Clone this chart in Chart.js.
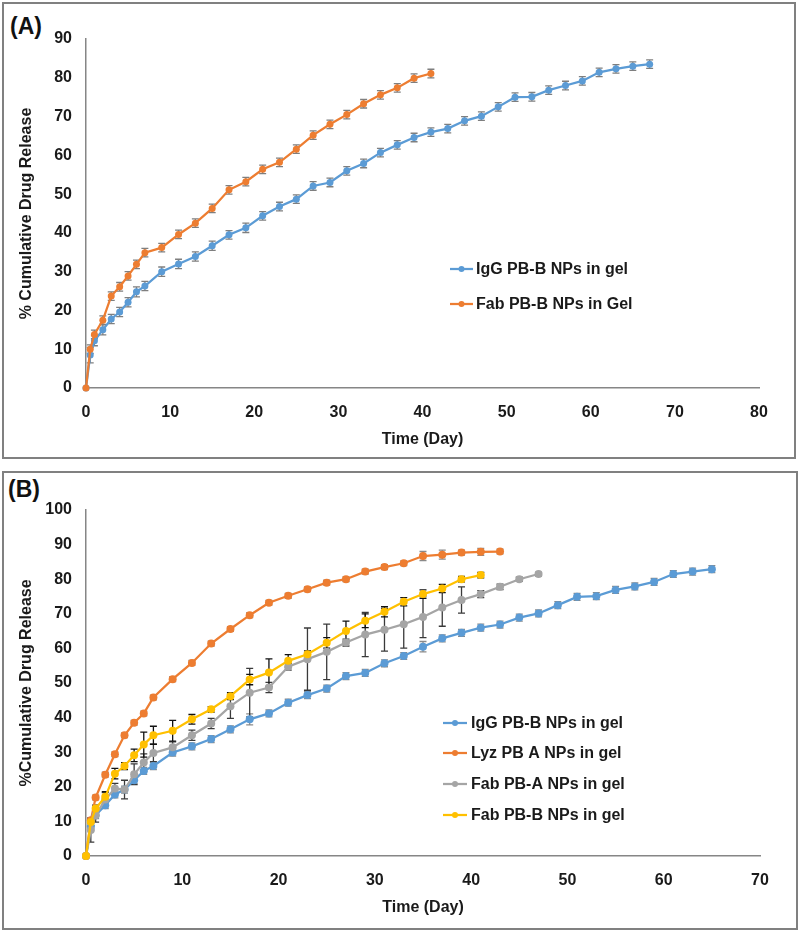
<!DOCTYPE html>
<html><head><meta charset="utf-8">
<script src="https://cdn.jsdelivr.net/npm/chart.js@4.4.1/dist/chart.umd.min.js"></script>
<style>
html,body{margin:0;padding:0;background:#fff;width:800px;height:931px;overflow:hidden;position:relative;font-family:"Liberation Sans",Arial,sans-serif;}
.box{position:absolute;box-sizing:border-box;border:2px solid #808080;}
.lbl{position:absolute;font-weight:bold;font-size:23px;color:#111;line-height:1;}
canvas{position:absolute;left:0;}
</style></head><body>
<div class="box" style="left:2px;top:2px;width:794px;height:457px"></div>
<div class="box" style="left:2px;top:471px;width:796px;height:459px"></div>
<div class="lbl" style="left:10px;top:15px">(A)</div>
<div class="lbl" style="left:8px;top:478px">(B)</div>
<canvas id="cA" width="800" height="462" style="top:0"></canvas>
<canvas id="cB" width="800" height="461" style="top:470px"></canvas>
<script>
// ---------- Panel A data ----------
const timesIgGA = [0,0.5,1,2,3,4,5,6,7,9,11,13,15,17,19,21,23,25,27,29,31,33,35,37,39,41,43,45,47,49,51,53,55,57,59,61,63,65,67];
const iggA = [0,8.5,12.2,15.0,17.8,19.6,22.1,24.8,26.3,30.0,32.0,33.9,36.7,39.5,41.3,44.4,46.8,48.7,52.1,53.0,56.0,57.9,60.7,62.7,64.6,66.0,66.9,68.9,70.1,72.5,75.0,75.1,76.8,78.0,79.2,81.4,82.3,83.0,83.5];
const iggErrA = [0,2.0,1.3,1.3,1.2,1.2,1.2,1.3,1.2,1.2,1.2,1.2,1.2,1.1,1.2,1.1,1.1,1.1,1.1,1.1,1.1,1.1,1.1,1.1,1.1,1.1,1.1,1.1,1.1,1.1,1.1,1.1,1.1,1.1,1.1,1.1,1.1,1.1,1.1];
const timesFab = [0,0.5,1,2,3,4,5,6,7,9,11,13,15,17,19,21,23,25,27,29,31,33,35,37,39,41];
const fabA = [0,10.0,13.8,17.5,23.7,26.1,28.9,31.9,34.9,36.2,39.6,42.5,46.3,51.1,53.2,56.4,58.2,61.6,65.2,68.0,70.5,73.3,75.6,77.4,79.9,81.1];
const fabErrA = [0,1.1,1.1,1.1,1.1,1.1,1.1,1.1,1.1,1.1,1.1,1.1,1.1,1.1,1.1,1.1,1.1,1.1,1.1,1.1,1.1,1.1,1.1,1.1,1.1,1.1];
const xTicksA = [0,10,20,30,40,50,60,70,80];
const yTicksA = [0,10,20,30,40,50,60,70,80,90];
const labelsA = ['IgG PB-B NPs in gel','Fab PB-B NPs in Gel'];

// ---------- Panel B data ----------
const timesIgGB = [0,0.5,1,2,3,4,5,6,7,9,11,13,15,17,19,21,23,25,27,29,31,33,35,37,39,41,43,45,47,49,51,53,55,57,59,61,63,65];
const iggB = [0,8.5,11.8,14.7,17.8,19.2,21.9,24.6,26.0,29.9,31.7,33.8,36.6,39.5,41.2,44.3,46.5,48.4,52.0,52.9,55.7,57.8,60.5,62.9,64.5,66.0,66.9,68.9,70.1,72.5,74.9,75.1,76.9,77.9,79.2,81.5,82.2,82.9];
const iggErrB = [0,1.0,1.0,1.0,1.0,1.0,1.0,1.0,1.0,1.0,1.0,1.0,1.0,1.6,1.0,1.0,1.0,1.0,1.0,1.0,1.0,1.0,1.5,1.0,1.0,1.0,1.0,1.0,1.0,1.0,1.0,1.0,1.0,1.0,1.0,1.0,1.0,1.0];
const timesLyz = [0,0.5,1,2,3,4,5,6,7,9,11,13,15,17,19,21,23,25,27,29,31,33,35,37,39,41,43];
const lyzB = [0,10.3,16.9,23.5,29.4,34.9,38.5,41.2,45.8,51.1,55.8,61.4,65.6,69.6,73.2,75.2,77.1,79.0,80.0,82.2,83.5,84.6,86.7,87.1,87.7,87.9,88.0];
const lyzErrB = [0,0.7,0.7,0.7,0.7,0.7,0.7,0.7,0.7,0.7,0.7,0.7,0.7,0.7,0.7,0.7,0.7,0.7,0.7,0.7,0.7,0.7,1.3,1.3,0.7,1.0,0.7];
const timesFabPA = [0,0.5,1,2,3,4,5,6,7,9,11,13,15,17,19,21,23,25,27,29,31,33,35,37,39,41,43,45,47];
const fabPAB = [0,7.5,11.8,16.3,19.5,19.2,23.6,27.0,29.8,31.4,34.9,38.3,43.3,47.2,48.7,54.7,56.9,59.0,61.7,64.0,65.4,67.0,69.1,71.8,74.0,75.7,77.8,80.0,81.5];
const fabPAErrB = [0,3.5,2.0,2.0,1.5,2.7,3.0,2.5,2.5,1.6,1.5,1.5,3.5,7.0,1.5,1.0,9.0,8.0,1.0,6.4,6.2,6.9,6.0,5.4,3.8,1.0,0.8,0.6,0.5];
const fabPBB = [0,9.8,13.7,17.1,23.8,26.0,29.1,32.2,34.9,36.2,39.5,42.4,46.2,51.0,53.0,56.4,58.3,61.6,65.0,68.0,70.6,73.5,75.7,77.3,80.0,81.2];
const fabPBErrB = [0,1.0,1.0,1.5,1.5,1.0,1.8,3.6,2.6,3.0,1.4,0.8,1.0,1.5,4.0,1.8,1.0,1.5,2.9,2.0,1.5,1.2,1.2,1.2,0.8,0.8];
const xTicksB = [0,10,20,30,40,50,60,70];
const yTicksB = [0,10,20,30,40,50,60,70,80,90,100];
const labelsB = ['IgG PB-B NPs in gel','Lyz PB A NPs in gel','Fab PB-A NPs in gel','Fab PB-B NPs in gel'];

const BLUE='#5B9BD5', ORANGE='#ED7D31', GRAY='#A5A5A5', YELLOW='#FFC000';
const FONT = {family:'"Liberation Sans", Arial, sans-serif', size:16, weight:'bold', lineHeight:1.2};
const TXT = '#1a1a1a';

const errorBars = {
  id:'errorBars',
  beforeDatasetsDraw(chart){
    const ctx = chart.ctx, ys = chart.scales.y;
    chart.data.datasets.forEach((ds,i)=>{
      if(!ds.errors) return;
      const meta = chart.getDatasetMeta(i);
      ctx.save();
      ctx.strokeStyle = ds.errorColor; ctx.lineWidth = 1.3;
      meta.data.forEach((pt,j)=>{
        const e = ds.errors[j]; if(!e) return;
        const v = ds.data[j].y;
        const y1 = ys.getPixelForValue(v+e), y2 = ys.getPixelForValue(v-e);
        ctx.beginPath();
        ctx.moveTo(pt.x,y1); ctx.lineTo(pt.x,y2);
        ctx.moveTo(pt.x-3.5,y1); ctx.lineTo(pt.x+3.5,y1);
        ctx.moveTo(pt.x-3.5,y2); ctx.lineTo(pt.x+3.5,y2);
        ctx.stroke();
      });
      ctx.restore();
    });
  }
};

const sideLegend = {
  id:'sideLegend',
  afterDraw(chart, args, opts){
    const ctx = chart.ctx;
    opts.items.forEach((idx,k)=>{
      const ds = chart.data.datasets[idx];
      const y = opts.rows[k];
      ctx.save();
      ctx.strokeStyle = ds.borderColor; ctx.lineWidth = 2.25;
      ctx.beginPath(); ctx.moveTo(opts.x,y); ctx.lineTo(opts.x+opts.len,y); ctx.stroke();
      ctx.fillStyle = ds.borderColor;
      ctx.beginPath(); ctx.arc(opts.x+opts.len/2,y,3,0,Math.PI*2); ctx.fill();
      ctx.fillStyle = TXT; ctx.font = 'bold 16px "Liberation Sans", Arial, sans-serif';
      ctx.textBaseline='middle'; ctx.textAlign='left';
      ctx.fillText(ds.label, opts.textX, y+1);
      ctx.restore();
    });
  }
};

function series(label, times, vals, errs, color, errColor, radius, order){
  return {
    label, data: times.map((t,i)=>({x:t,y:vals[i]})),
    borderColor: color, backgroundColor: color, borderWidth: 2.25,
    pointRadius: radius, pointBorderWidth: 0, pointBackgroundColor: color,
    tension: 0, clip: false, errors: errs, errorColor: errColor, order
  };
}

function build(id, datasets, xT, yT, yTitle, geo, legend){
  new Chart(document.getElementById(id), {
    type:'line',
    data:{datasets},
    plugins:[errorBars, sideLegend],
    options:{
      responsive:false, animation:false, devicePixelRatio:1,
      layout:{padding:{left:0,right:geo.padRight,top:geo.padTop,bottom:0}},
      plugins:{legend:{display:false}, tooltip:{enabled:false}, sideLegend: legend},
      scales:{
        x:{type:'linear', min:xT[0], max:xT[xT.length-1],
           grid:{display:false, drawTicks:false},
           border:{display:true, color:'#868686', width:1.5},
           ticks:{font:FONT, color:TXT, padding:geo.xTickPad, autoSkip:false, maxRotation:0},
           afterBuildTicks:(s)=>{ s.ticks = xT.map(v=>({value:v})); },
           title:{display:true, text:'Time (Day)', font:FONT, color:TXT, padding:{top:0,bottom:geo.xTitlePad}},
           afterFit:(s)=>{ s.height = geo.xHeight; }},
        y:{type:'linear', min:yT[0], max:yT[yT.length-1],
           grid:{display:false, drawTicks:false},
           border:{display:true, color:'#868686', width:1.5},
           ticks:{font:FONT, color:TXT, padding:14, autoSkip:false},
           afterBuildTicks:(s)=>{ s.ticks = yT.map(v=>({value:v})); },
           title:{display:true, text:yTitle, font:FONT, color:TXT, padding:{top:17.4,bottom:0}},
           afterFit:(s)=>{ s.width = 86; }}
      }
    }
  });
}

build('cA', [
  series(labelsA[0], timesIgGA, iggA, iggErrA, BLUE, '#7f7f7f', 3.5, 1),
  series(labelsA[1], timesFab, fabA, fabErrA, ORANGE, '#7f7f7f', 3.5, 0)
], xTicksA, yTicksA, '% Cumulative Drug Release',
 {padRight:41, padTop:39, xHeight:74, xTickPad:15.4, xTitlePad:12.4},
 {items:[0,1], rows:[269,304], x:450, len:23, textX:476});

build('cB', [
  series(labelsB[0], timesIgGB, iggB, iggErrB, BLUE, '#8a8a8a', 4, 3),
  series(labelsB[1], timesLyz, lyzB, lyzErrB, ORANGE, '#8a8a8a', 4, 2),
  series(labelsB[2], timesFabPA, fabPAB, fabPAErrB, GRAY, '#3a3a3a', 4, 1),
  series(labelsB[3], timesFab, fabPBB, fabPBErrB, YELLOW, '#111111', 4, 0)
], xTicksB, yTicksB, '%Cumulative Drug Release',
 {padRight:40, padTop:40, xHeight:75, xTickPad:15.4, xTitlePad:13.4},
 {items:[0,1,2,3], rows:[253,283,314,345], x:443, len:24, textX:471});
</script>
</body></html>
